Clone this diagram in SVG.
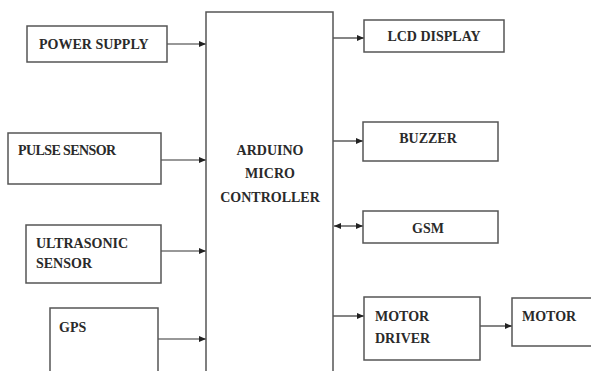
<svg xmlns="http://www.w3.org/2000/svg" width="591" height="371" viewBox="0 0 591 371">
<defs>
<marker id="ah" markerWidth="8" markerHeight="8" refX="7" refY="4" orient="auto" markerUnits="userSpaceOnUse">
<path d="M0,1 L7,4 L0,7 Z" fill="#222"/>
</marker>
<marker id="ahs" markerWidth="8" markerHeight="8" refX="0" refY="4" orient="auto" markerUnits="userSpaceOnUse">
<path d="M7,1 L0,4 L7,7 Z" fill="#222"/>
</marker>
<style>
rect{fill:#fff;stroke:#555;stroke-width:1.5}
text{font-family:"Liberation Serif","DejaVu Serif",serif;font-weight:bold;font-size:14px;fill:#2a2a2a}
.c{text-anchor:middle}
line{stroke:#333;stroke-width:1.2}
</style>
</defs>
<rect x="0" y="0" width="591" height="371" style="fill:#fff;stroke:none"/>
<g id="connectors">
<line x1="167" y1="44" x2="206" y2="44" marker-end="url(#ah)"/>
<line x1="161" y1="160" x2="206" y2="160" marker-end="url(#ah)"/>
<line x1="161" y1="251" x2="206" y2="251" marker-end="url(#ah)"/>
<line x1="158" y1="339" x2="206" y2="339" marker-end="url(#ah)"/>
<line x1="333" y1="38" x2="364" y2="38" marker-end="url(#ah)"/>
<line x1="333" y1="141" x2="363" y2="141" marker-end="url(#ah)"/>
<line x1="334" y1="226" x2="363" y2="226" marker-end="url(#ah)" marker-start="url(#ahs)"/>
<line x1="333" y1="316" x2="364" y2="316" marker-end="url(#ah)"/>
<line x1="480" y1="326" x2="512" y2="326" marker-end="url(#ah)"/>
</g>
<g id="controller">
<path d="M206,372 V12 H333 V372" fill="#fff" stroke="#555" stroke-width="1.5"/>
<text class="c" x="270" y="155">ARDUINO</text>
<text class="c" x="270" y="178">MICRO</text>
<text class="c" x="270" y="202">CONTROLLER</text>
</g>
<g id="power-supply">
<rect x="27" y="26" width="140" height="36"/>
<text x="39" y="49">POWER SUPPLY</text>
</g>
<g id="pulse-sensor">
<rect x="8" y="133" width="153" height="51"/>
<text x="18" y="155" style="letter-spacing:-0.6px">PULSE SENSOR</text>
</g>
<g id="ultrasonic-sensor">
<rect x="26" y="225" width="135" height="58"/>
<text x="36" y="248">ULTRASONIC</text>
<text x="36" y="268">SENSOR</text>
</g>
<g id="gps">
<path d="M50,372 V308 H158 V372" fill="#fff" stroke="#555" stroke-width="1.5"/>
<text x="59" y="332">GPS</text>
</g>
<g id="lcd-display">
<rect x="364" y="20" width="140" height="32"/>
<text class="c" x="434" y="41">LCD DISPLAY</text>
</g>
<g id="buzzer">
<rect x="363" y="122" width="135" height="39"/>
<text class="c" x="428" y="143">BUZZER</text>
</g>
<g id="gsm">
<rect x="363" y="211" width="135" height="32"/>
<text class="c" x="428" y="233">GSM</text>
</g>
<g id="motor-driver">
<rect x="364" y="297" width="116" height="63"/>
<text x="375" y="321">MOTOR</text>
<text x="375" y="343">DRIVER</text>
</g>
<g id="motor">
<rect x="512" y="298" width="85" height="48"/>
<text x="522" y="321">MOTOR</text>
</g>
</svg>
